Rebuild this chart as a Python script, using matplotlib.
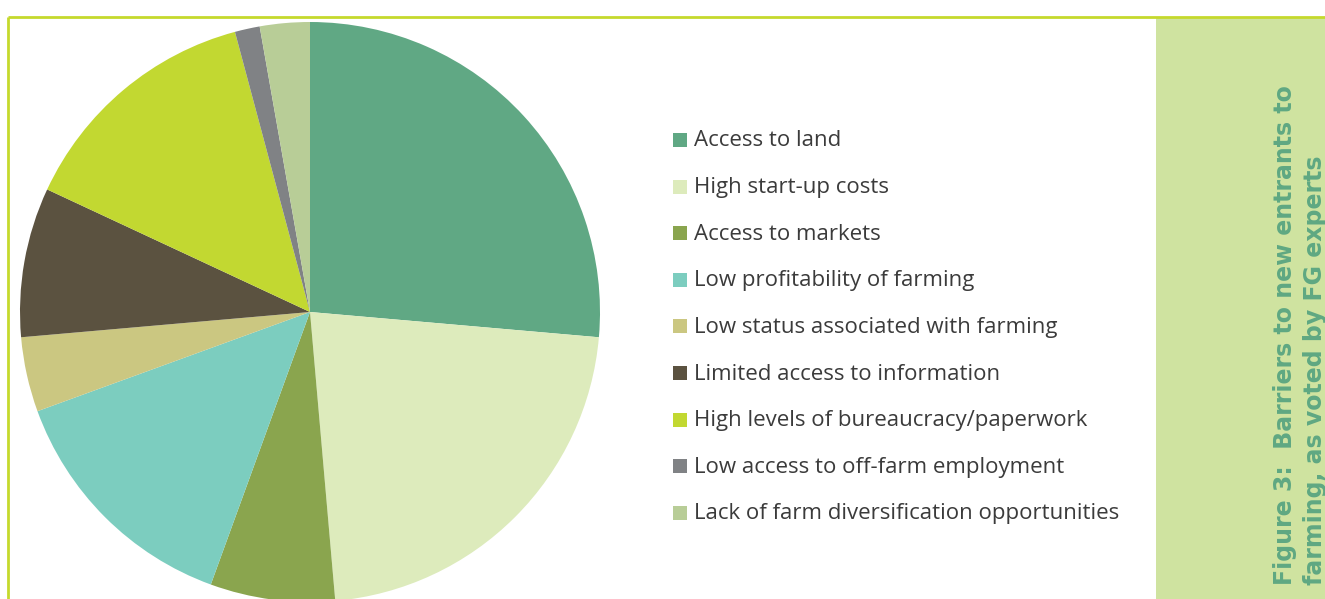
import matplotlib.pyplot as plt
from matplotlib.patches import Rectangle

# barriers voted by focus group experts (votes)
labels = [
    "Access to land",
    "High start-up costs",
    "Access to markets",
    "Low profitability of farming",
    "Low status associated with farming",
    "Limited access to information",
    "High levels of bureaucracy/paperwork",
    "Low access to off-farm employment",
    "Lack of farm diversification opportunities",
]
votes = [19, 16, 5, 10, 3, 6, 10, 1, 2]
colors = [
    "#60a884", "#ddebbc", "#8aa54e", "#7ccdbf", "#cbc781",
    "#5b5240", "#c2d831", "#808285", "#b8cd97",
]

caption = ["Figure 3:  Barriers to new entrants to", "farming, as voted by FG experts"]

W, H = 1325, 599
fig = plt.figure(figsize=(W / 100, H / 100), dpi=100)
ax = fig.add_axes([0, 0, 1, 1])

ax.pie(votes, colors=colors, startangle=90, counterclock=False,
       center=(310, H - 312), radius=290,
       wedgeprops=dict(linewidth=0))
ax.set_xlim(0, W)
ax.set_ylim(0, H)
ax.set_aspect("auto")
ax.axis("off")

# frame lines and caption panel
line_c = "#c5d92d"
ax.plot([8, W], [H - 17, H - 17], color=line_c, lw=2, solid_capstyle="butt")
ax.plot([8, 8], [0, H - 17], color=line_c, lw=2, solid_capstyle="butt")
ax.add_patch(Rectangle((1156, 0), W - 1156, H - 18, facecolor="#cfe3a0",
                       edgecolor="none"))

# legend
for i, (lab, c) in enumerate(zip(labels, colors)):
    yc = H - (140 + i * 46.6)
    ax.add_patch(Rectangle((673, yc - 7), 14, 14, facecolor=c, edgecolor="none"))
    ax.text(694, yc - 1, lab, fontsize=16, family="Open Sans", color="#3b3b3b",
            va="center", ha="left")

# rotated caption
for j, line in enumerate(caption):
    ax.text(1292 + j * 30, H - 585, line, rotation=90, rotation_mode="anchor",
            ha="left", va="baseline", fontsize=17, fontweight="bold",
            family="DejaVu Sans", color="#5fa882")

fig.savefig("out.png", dpi=100)
